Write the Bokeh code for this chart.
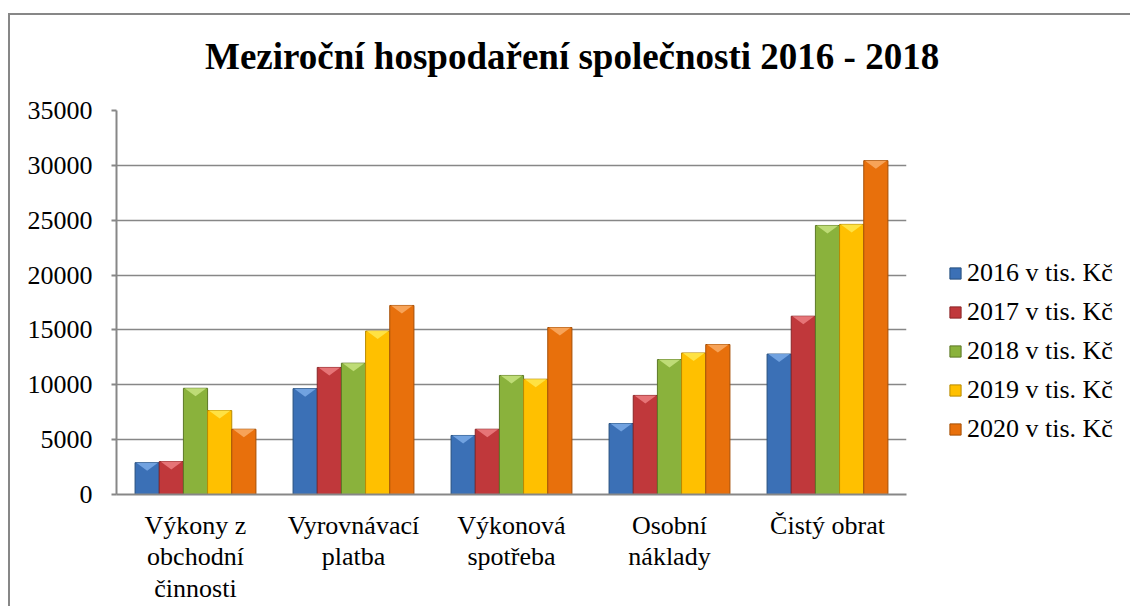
from bokeh.plotting import figure
from bokeh.layouts import column
from bokeh.models import ColumnDataSource, FixedTicker, Legend, LegendItem, Range1d, Div
from bokeh.embed import file_html
from bokeh.resources import INLINE

# ---- data ----
categories = ["Výkony z\nobchodní\nčinnosti", "Vyrovnávací\nplatba", "Výkonová\nspotřeba",
              "Osobní\nnáklady", "Čistý obrat"]
series_names = ["2016 v tis. Kč", "2017 v tis. Kč", "2018 v tis. Kč", "2019 v tis. Kč", "2020 v tis. Kč"]
v2016 = [2900, 9650, 5380, 6470, 12800]
v2017 = [3000, 11580, 5950, 9030, 16250]
v2018 = [9680, 11970, 10850, 12300, 24520]
v2019 = [7650, 14900, 10510, 12900, 24620]
v2020 = [5950, 17230, 15220, 13670, 30430]
y_ticks = [0, 5000, 10000, 15000, 20000, 25000, 30000, 35000]
title_text = "Meziroční hospodaření společnosti 2016 - 2018"

# ---- styles ----
fills = ["#3B70B6", "#C0383B", "#8AB23C", "#FFC000", "#E8700C"]
lines = ["#27507F", "#8A2527", "#5C7826", "#B98A00", "#A54F06"]
tops = ["#78A7E4", "#EA7B7E", "#C3E07C", "#FFE54A", "#F8A860"]
FONT = "Liberation Serif"

all_vals = [v2016, v2017, v2018, v2019, v2020]
n_cat = len(categories)
bar_w = 0.153
offsets = [(i - 2) * bar_w for i in range(5)]

TITLE_H = 70
FW, FH = 790, 384
p = figure(frame_width=FW, frame_height=FH, output_backend="svg", toolbar_location=None,
           title_location=None,
           x_range=Range1d(0, n_cat), y_range=Range1d(y_ticks[0], y_ticks[-1]),
           min_border_left=106, min_border_right=216, min_border_top=95 - TITLE_H,
           min_border_bottom=100)
p.outline_line_color = None
p.background_fill_color = "white"
p.border_fill_color = "white"

title_html = ('<div style="margin-top:14px; line-height:56px; white-space:nowrap; '
              'padding-left:195px;">%s</div>' % title_text)
title_div = Div(text=title_html, width=1112, height=TITLE_H, margin=0,
                styles={"font-family": FONT, "font-size": "37px", "font-weight": "bold",
                        "color": "black", "background": "white"})

px_per_unit = FH / (y_ticks[-1] - y_ticks[0])
depth = 8.0 / px_per_unit

legend_items = []
for i, vals in enumerate(all_vals):
    xs = [j + 0.5 + offsets[i] for j in range(n_cat)]
    src = ColumnDataSource(dict(x=xs, top=vals))
    r = p.vbar(x="x", top="top", width=bar_w, bottom=0, source=src,
               fill_color=fills[i], line_color=lines[i], line_width=1)
    # bevel highlight at top of bars
    pxs, pys = [], []
    hw = bar_w / 2 * 0.9
    for x, v in zip(xs, vals):
        pxs.append([x - hw, x + hw, x])
        pys.append([v, v, v - depth])
    p.patches(xs=pxs, ys=pys, fill_color=tops[i], line_color=None, fill_alpha=0.9)
    legend_items.append(LegendItem(label=series_names[i], renderers=[r]))

# axes
p.xaxis.ticker = FixedTicker(ticks=[j + 0.5 for j in range(n_cat)])
p.xaxis.major_label_overrides = {j + 0.5: c for j, c in enumerate(categories)}
p.xaxis.major_tick_line_color = None
p.xaxis.minor_tick_line_color = None
p.xaxis.axis_line_color = "#878787"
p.xaxis.axis_line_width = 2
p.xaxis.major_label_text_font = FONT
p.xaxis.major_label_text_font_size = "26px"
p.xaxis.major_label_text_color = "black"
p.xaxis.major_label_text_line_height = 1.1
p.xaxis.major_label_standoff = 10

p.yaxis.ticker = FixedTicker(ticks=y_ticks)
p.yaxis.minor_tick_line_color = None
p.yaxis.major_tick_out = 5
p.yaxis.major_tick_in = 0
p.yaxis.major_tick_line_color = "#878787"
p.yaxis.major_tick_line_width = 2
p.yaxis.axis_line_color = "#878787"
p.yaxis.axis_line_width = 2
p.yaxis.major_label_text_font = FONT
p.yaxis.major_label_text_font_size = "26px"
p.yaxis.major_label_text_color = "black"
p.yaxis.major_label_standoff = 19

p.xgrid.grid_line_color = None
p.ygrid.grid_line_color = "#878787"
p.ygrid.grid_line_width = 1.5

legend = Legend(items=legend_items, location=(42, 50), orientation="vertical")
legend.label_text_font = FONT
legend.label_text_font_size = "26px"
legend.label_text_color = "black"
legend.glyph_width = 14
legend.glyph_height = 14
legend.label_standoff = 5
legend.label_height = 28
legend.spacing = 9
legend.padding = 0
legend.margin = 0
legend.border_line_color = None
legend.background_fill_alpha = 0
p.add_layout(legend, "right")

layout = column(title_div, p, spacing=0)
layout.margin = (13, 0, 0, 8)
layout.styles = {"border-left": "2px solid #878787", "border-top": "2px solid #878787",
                 "background": "white"}

open("out.html", "w").write(file_html(layout, INLINE))
